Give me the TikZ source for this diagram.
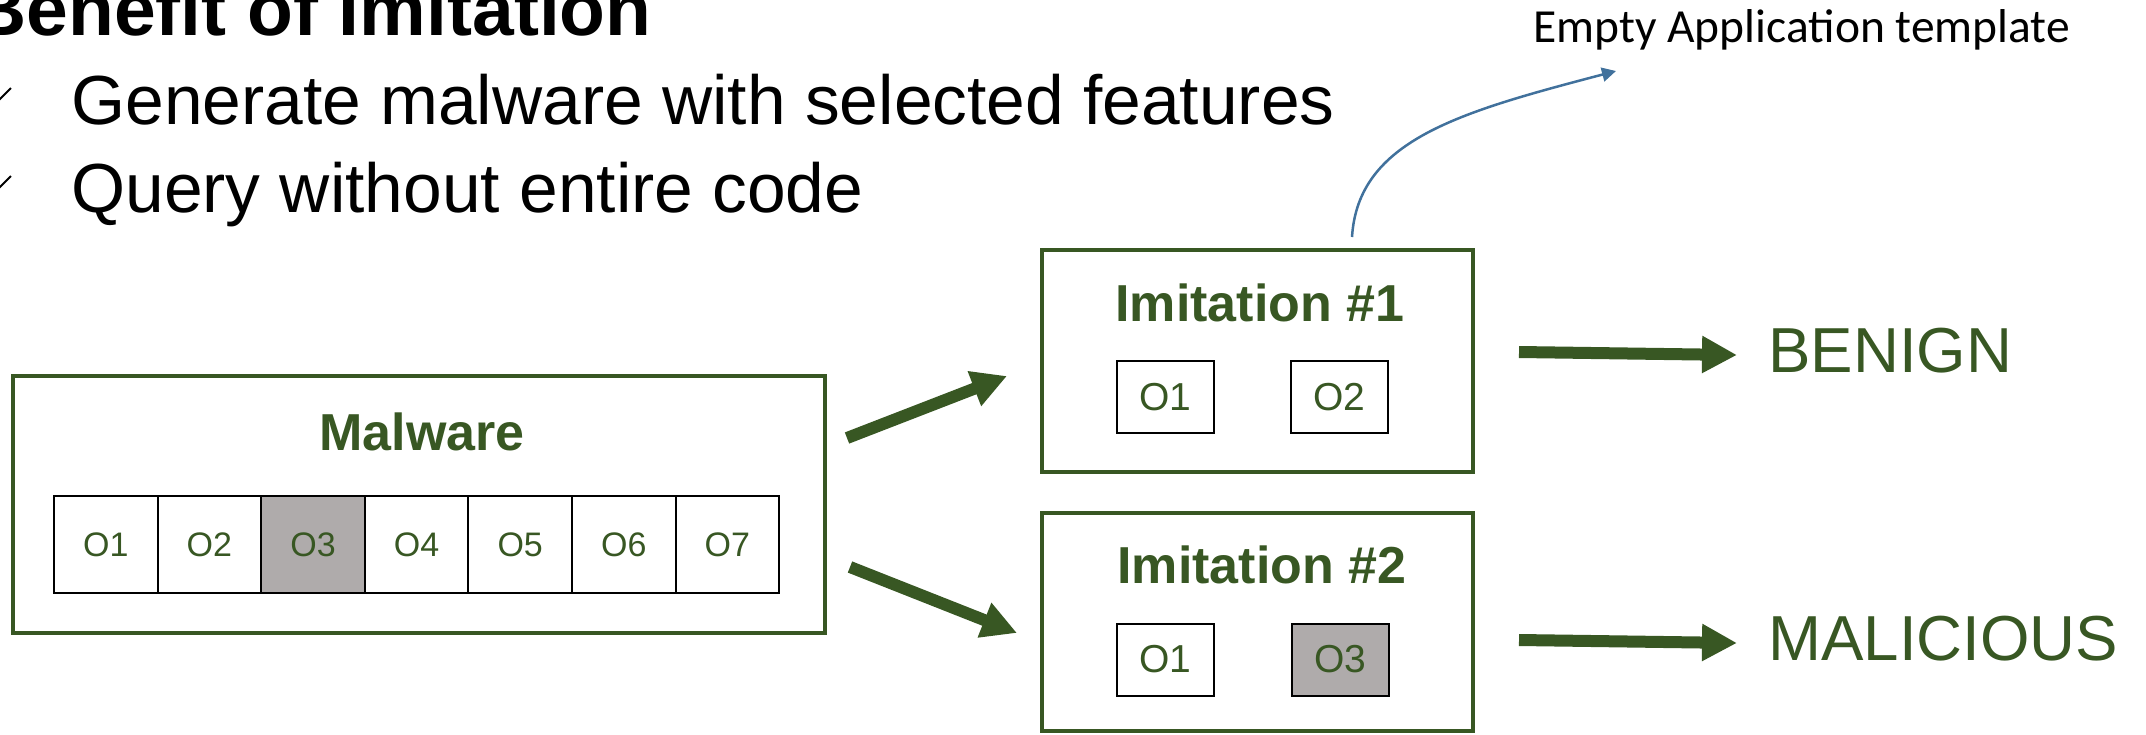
\documentclass[tikz,border=0pt]{standalone}
\usepackage{fontspec}
\setmainfont{Liberation Sans}
\newfontfamily\calibrifont{Carlito}
\usetikzlibrary{arrows.meta}
\definecolor{imgreen}{RGB}{56,87,35}
\definecolor{imgray}{RGB}{175,171,171}
\definecolor{imblue}{RGB}{65,113,156}
\newcommand{\fsz}[1]{\fontsize{#1pt}{#1pt}\selectfont}
\tikzset{
  frame/.style={draw=imgreen, line width=2pt},
  cell/.style={draw=black, line width=1pt, text=imgreen, inner sep=0pt},
  hdr/.style={text=imgreen, font=\fsz{26}\bfseries, anchor=base, inner sep=0pt},
  fatarrow/.style={draw=imgreen, line width=6pt, -{Triangle[length=17.5pt,width=17.5pt]}},
  verdict/.style={text=imgreen, font=\fsz{31.8}, anchor=base west, inner sep=0pt},
}

\begin{document}
\begin{tikzpicture}[x=0.5pt, y=-0.5pt]
	\useasboundingbox (0,0) rectangle (2146,734);
	% heading and bullets
	\node[anchor=base west, inner sep=0pt, font=\fsz{37.5}\bfseries] (title) at (-28,35) {Benefit of Imitation};
	\node[anchor=base west, inner sep=0pt, font=\fsz{34.75}] (pt1) at (71,124) {Generate malware with selected features};
	\node[anchor=base west, inner sep=0pt, font=\fsz{34.75}] (pt2) at (71,212) {Query without entire code};
	\foreach \y in {100,188}
		\draw[line width=1pt] (-10,\y-9) -- (-1,\y) -- (11,\y-12);

	% malware with all its options
	\node[frame, minimum width=406pt, minimum height=128.5pt] (malware) at (419,504.5) {};
	\node[hdr] (malwaretitle) at (422,450) {Malware};
	\foreach \i/\col in {1/white,2/white,3/imgray,4/white,5/white,6/white,7/white}
		\node[cell, fill=\col, minimum width=51.8pt, minimum height=48.5pt, font=\fsz{17}] (m\i) at (103.6*\i+2.2,544.5) {O\i};

	% imitations
	\node[frame, minimum width=215.5pt, minimum height=111pt] (imit1) at (1257,361) {};
	\node[hdr] (imit1title) at (1260,321) {Imitation \#1};
	\node[cell, fill=white, minimum width=48.5pt, minimum height=36pt, font=\fsz{19.5}] (a1) at (1165.5,397) {O1};
	\node[cell, fill=white, minimum width=48.5pt, minimum height=36pt, font=\fsz{19.5}] (a2) at (1339.5,397) {O2};

	\node[frame, minimum width=215.5pt, minimum height=109pt] (imit2) at (1257,622) {};
	\node[hdr] (imit2title) at (1262,583) {Imitation \#2};
	\node[cell, fill=white, minimum width=48.5pt, minimum height=36pt, font=\fsz{19.5}] (b1) at (1165.5,659.5) {O1};
	\node[cell, fill=imgray, minimum width=48.5pt, minimum height=36pt, font=\fsz{19.5}] (b3) at (1340,659.5) {O3};

	% fat arrows
	\coordinate (up0) at (847,438);
	\coordinate (up1) at (1007,376);
	\coordinate (dn0) at (850,567);
	\coordinate (dn1) at (1017,633);
	\draw[fatarrow] (up0) -- (up1);
	\draw[fatarrow] (dn0) -- (dn1);

	\node[verdict] (benign) at (1768,372) {BENIGN};
	\node[verdict] (malicious) at (1768,660) {MALICIOUS};
	\coordinate (ok0) at (1519,352);
	\coordinate (ok1) at (1737,355);
	\coordinate (bad0) at (1519,640);
	\coordinate (bad1) at (1737,643);
	\draw[fatarrow] (ok0) -- (ok1);
	\draw[fatarrow] (bad0) -- (bad1);

	% note on imitation 1
	\node[anchor=base west, inner sep=0pt, font=\calibrifont\fsz{23.75}] (tmpl) at (1533,42) {Empty Application template};
	\coordinate (tmplfoot) at (1352,237);
	\coordinate (tmplhead) at (1616,71);
	\draw[imblue, line width=1.25pt, -{Triangle[length=7pt,width=7pt]}] (tmplfoot) .. controls (1358,140) and (1460,112) .. (tmplhead);
\end{tikzpicture}
\end{document}
